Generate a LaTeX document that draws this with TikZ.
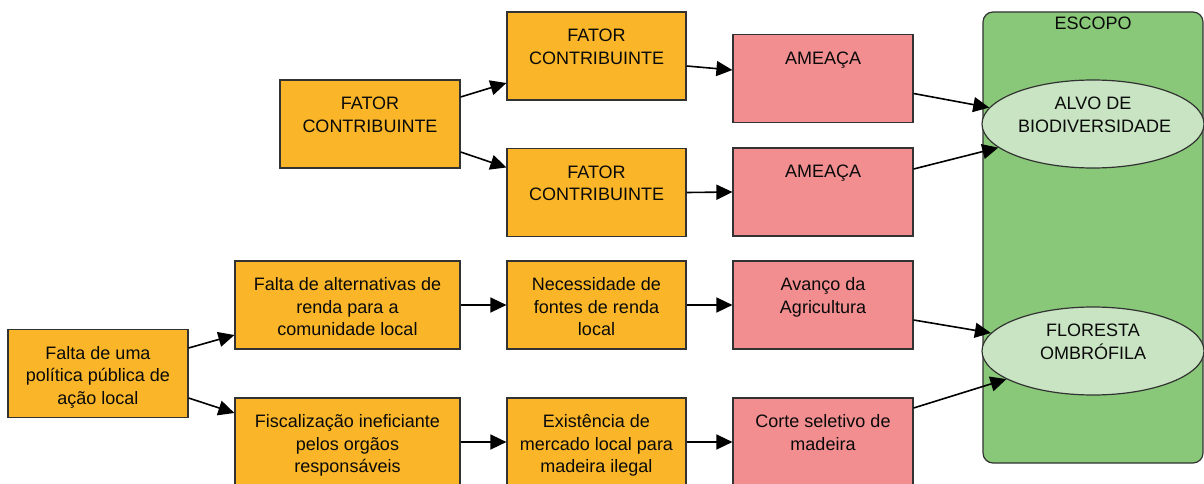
\documentclass[tikz,border=0pt]{standalone}
\usepackage{fontspec}
\setmainfont{Liberation Sans}
\usetikzlibrary{shapes.geometric,arrows.meta}
\definecolor{orng}{RGB}{250,182,40}
\definecolor{redc}{RGB}{242,142,144}
\definecolor{grnc}{RGB}{136,200,120}
\definecolor{lgrn}{RGB}{200,228,194}
\definecolor{bordc}{RGB}{50,50,50}
\definecolor{txtc}{RGB}{10,10,10}
\newcommand{\bxt}[2]{\parbox[c][60pt][t]{#1}{\centering\strut #2}}
\begin{document}
\begin{tikzpicture}[x=1pt,y=-1pt,
  box/.style={draw=bordc, line width=1.2pt, inner sep=0pt, minimum height=88pt,
    text=txtc, font=\fontsize{18}{22.5}\selectfont},
  obox/.style={box, fill=orng},
  rbox/.style={box, fill=redc},
  targ/.style={ellipse, draw=bordc, line width=1.2pt, fill=lgrn, inner sep=0pt,
    minimum width=222pt, minimum height=88pt, text=txtc, font=\fontsize{18}{22.5}\selectfont},
  scopebox/.style={draw=bordc, line width=1.2pt, fill=grnc, rounded corners=10pt,
    minimum width=220pt, minimum height=451pt, inner sep=0pt},
  arr/.style={-{Triangle[length=16pt,width=15pt]}, line width=1.6pt, black}
]
\useasboundingbox (0,0) rectangle (1204,484);
\clip (0,0) rectangle (1204,484);

% scope
\node[scopebox] (scope) at (1093,237.5) {};
\node[text=txtc, font=\fontsize{18}{22.5}\selectfont] (esc) at (1093,23) {ESCOPO};
\node[targ] (alvo) at (1093,124) {\bxt{150pt}{ALVO DE\\BIODIVERSIDADE}};
\node[targ] (flor) at (1093,351) {\bxt{150pt}{FLORESTA\\OMBRÓFILA}};

% generic chain
\node[obox, minimum width=180pt] (fcl) at (370,124) {\bxt{176pt}{FATOR\\CONTRIBUINTE}};
\node[obox, minimum width=179pt] (fct) at (596.5,56) {\bxt{175pt}{FATOR\\CONTRIBUINTE}};
\node[obox, minimum width=179pt] (fcb) at (596.5,192.5) {\bxt{175pt}{FATOR\\CONTRIBUINTE}};
\node[rbox, minimum width=180pt] (am1) at (823,78.5) {\bxt{176pt}{AMEAÇA}};
\node[rbox, minimum width=180pt] (am2) at (823,192) {\bxt{176pt}{AMEAÇA}};

% concrete chain
\node[obox, minimum width=180pt] (falta) at (98,373.5) {\bxt{176pt}{Falta de uma\\política pública de\\ação local}};
\node[obox, minimum width=225pt] (alt) at (347.5,305) {\bxt{221pt}{Falta de alternativas de\\renda para a\\comunidade local}};
\node[obox, minimum width=225pt] (fisc) at (347.5,442) {\bxt{221pt}{Fiscalização ineficiante\\pelos orgãos\\responsáveis}};
\node[obox, minimum width=179pt] (nec) at (596.5,305) {\bxt{175pt}{Necessidade de\\fontes de renda\\local}};
\node[obox, minimum width=179pt] (exi) at (596.5,442) {\bxt{175pt}{Existência de\\mercado local para\\madeira ilegal}};
\node[rbox, minimum width=180pt] (ava) at (823,305) {\bxt{176pt}{Avanço da\\Agricultura}};
\node[rbox, minimum width=180pt] (cor) at (823,442) {\bxt{176pt}{Corte seletivo de\\madeira}};

% arrows
\draw[arr] ([yshift=27pt]fcl.east) -- ([yshift=-27pt]fct.west);
\draw[arr] ([yshift=-28pt]fcl.east) -- ([yshift=25pt]fcb.west);
\draw[arr] ([yshift=-10pt]fct.east) -- ([yshift=8.5pt]am1.west);
\draw[arr] (fcb.east) -- (am2.west);
\draw[arr] ([yshift=-15pt]am1.east) -- (alvo.171);
\draw[arr] ([yshift=23pt]am2.east) -- (alvo.194);

\draw[arr] ([yshift=25.5pt]falta.east) -- ([yshift=-30pt]alt.west);
\draw[arr] ([yshift=-24.5pt]falta.east) -- ([yshift=29pt]fisc.west);
\draw[arr] (alt.east) -- (nec.west);
\draw[arr] (fisc.east) -- (exi.west);
\draw[arr] (nec.east) -- (ava.west);
\draw[arr] (exi.east) -- (cor.west);
\draw[arr] ([yshift=-15pt]ava.east) -- (flor.170);
\draw[arr] ([yshift=34pt]cor.east) -- (flor.198);
\end{tikzpicture}
\end{document}
